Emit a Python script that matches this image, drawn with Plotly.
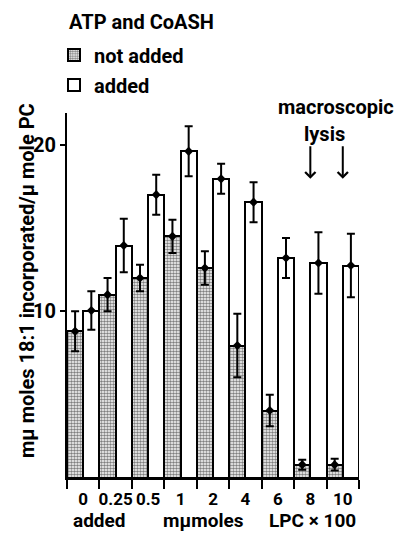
import plotly.graph_objects as go

categories = ["0", "0.25", "0.5", "1", "2", "4", "6", "8", "10"]
not_added = [8.8, 11.0, 12.0, 14.5, 12.6, 7.95, 4.05, 0.8, 0.8]
not_added_err = [1.2, 1.0, 0.8, 1.0, 1.0, 1.9, 0.95, 0.3, 0.35]
added = [10.05, 13.95, 17.0, 19.6, 17.95, 16.55, 13.2, 12.9, 12.75]
added_err = [1.15, 1.6, 1.2, 1.5, 0.9, 1.2, 1.2, 1.85, 1.9]

FONT = "Roboto, Arial, sans-serif"
W, H = 396, 533
L, R, T, B = 67, 37, 113, 55

n = len(categories)
xi = list(range(n))
x_na = [i - 0.25 for i in xi]
x_a = [i + 0.25 for i in xi]

fig = go.Figure()
fig.add_trace(go.Bar(
    x=x_na, y=not_added, width=0.5, name="not added", legend="legend",
    marker=dict(color="white", line=dict(color="black", width=2),
                pattern=dict(shape=".", fgcolor="black", bgcolor="white", size=3, solidity=0.55)),
))
fig.add_trace(go.Bar(
    x=x_a, y=added, width=0.5, name="added", legend="legend2",
    marker=dict(color="white", line=dict(color="black", width=2)),
))
fig.add_trace(go.Scatter(
    x=x_na + x_a, y=not_added + added, mode="markers", showlegend=False,
    marker=dict(symbol="diamond", size=7, color="black"),
    error_y=dict(type="data", array=not_added_err + added_err, color="black", thickness=2, width=4),
))

def px(xp):
    return (xp - L) / (W - L - R)

def py(yp):
    return (H - B - yp) / (H - T - B)

ann = []
ann.append(dict(text="ATP and CoASH", x=px(67), y=py(22), xref="paper", yref="paper",
                xanchor="left", yanchor="middle", showarrow=False, font=dict(size=20)))
ann.append(dict(text="mμ moles 18:1 incorporated/μ mole PC", textangle=-90,
                x=px(27), y=py(281), xref="paper", yref="paper",
                xanchor="center", yanchor="middle", showarrow=False, font=dict(size=20)))
for txt, xc in [("added", 99), ("mμmoles", 203), ("LPC × 100", 312)]:
    ann.append(dict(text=txt, x=px(xc), y=py(533), xref="paper", yref="paper",
                    xanchor="center", yanchor="bottom", showarrow=False, font=dict(size=19),
                    borderpad=0))
ann.append(dict(text="macroscopic", x=px(336), y=py(107), xref="paper", yref="paper",
                xanchor="center", yanchor="middle", showarrow=False, font=dict(size=20)))
ann.append(dict(text="lysis", x=px(324), y=py(134), xref="paper", yref="paper",
                xanchor="center", yanchor="middle", showarrow=False, font=dict(size=20)))
for xa in [7, 8]:
    ann.append(dict(x=xa, y=17.95, ax=xa, ay=20.0, xref="x", yref="y", axref="x", ayref="y",
                    showarrow=True, arrowhead=4, arrowwidth=2, arrowsize=1, arrowcolor="black", text=""))

fig.update_layout(
    width=W, height=H, margin=dict(l=L, r=R, t=T, b=B),
    paper_bgcolor="white", plot_bgcolor="white",
    font=dict(family=FONT, size=20, color="black", weight="bold"),
    barmode="overlay", bargap=0,
    annotations=ann,
    legend=dict(x=px(54), y=py(55), xanchor="left", yanchor="middle", bgcolor="rgba(0,0,0,0)",
                font=dict(size=20), itemwidth=30),
    legend2=dict(x=px(54), y=py(85), xanchor="left", yanchor="middle", bgcolor="rgba(0,0,0,0)",
                 font=dict(size=20), itemwidth=30),
)
fig.update_xaxes(
    range=[-0.5, n - 0.5], tickvals=xi, ticktext=categories, ticks="", ticklabelstandoff=5,
    tickangle=0,
    showline=True, linecolor="black", linewidth=2, showgrid=False, zeroline=False,
    minor=dict(tickvals=[i - 0.5 for i in range(n + 1)], ticks="outside", ticklen=9,
               tickwidth=2, tickcolor="black", showgrid=False),
    tickfont=dict(size=17),
)
fig.update_yaxes(
    range=[0, 21.9], tickvals=[10, 20], ticks="outside", ticklen=5, tickwidth=2, tickcolor="black",
    showline=True, linecolor="black", linewidth=2, showgrid=False, zeroline=False,
    tickfont=dict(size=20),
)
fig.write_html("out.html")
